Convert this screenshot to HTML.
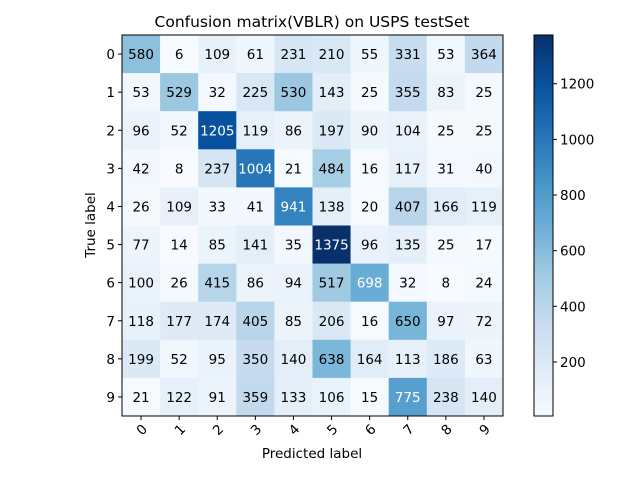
<!DOCTYPE html>
<html><head><meta charset="utf-8"><style>
body{margin:0;background:#fff;}
svg text{font-family:"DejaVu Sans","Liberation Sans",sans-serif;}
</style></head><body>
<svg id="chart" width="640" height="476" xmlns="http://www.w3.org/2000/svg">
<text x="312" y="27" font-size="15.5" text-anchor="middle">Confusion matrix(VBLR) on USPS testSet</text>
<g id="cells"></g>
<rect x="122" y="35" width="381" height="381" fill="none" stroke="#000" stroke-width="1"/>
<g id="axes"></g>
<text x="312" y="458" font-size="13.5" text-anchor="middle">Predicted label</text>
<text transform="translate(95,225) rotate(-90)" font-size="13.5" text-anchor="middle">True label</text>
<defs><linearGradient id="cbg" x1="0" y1="1" x2="0" y2="0">
<stop offset="0" stop-color="#f7fbff"/><stop offset="0.125" stop-color="#deebf7"/><stop offset="0.25" stop-color="#c6dbef"/><stop offset="0.375" stop-color="#9ecae1"/><stop offset="0.5" stop-color="#6baed6"/><stop offset="0.625" stop-color="#4292c6"/><stop offset="0.75" stop-color="#2171b5"/><stop offset="0.875" stop-color="#08519c"/><stop offset="1" stop-color="#08306b"/>
</linearGradient></defs>
<rect x="534" y="35" width="19" height="381" fill="url(#cbg)" stroke="#000" stroke-width="1"/>
<g id="cbticks"></g>
</svg>
<script>
const classes=['0','1','2','3','4','5','6','7','8','9'];
const matrix=[
[580,6,109,61,231,210,55,331,53,364],
[53,529,32,225,530,143,25,355,83,25],
[96,52,1205,119,86,197,90,104,25,25],
[42,8,237,1004,21,484,16,117,31,40],
[26,109,33,41,941,138,20,407,166,119],
[77,14,85,141,35,1375,96,135,25,17],
[100,26,415,86,94,517,698,32,8,24],
[118,177,174,405,85,206,16,650,97,72],
[199,52,95,350,140,638,164,113,186,63],
[21,122,91,359,133,106,15,775,238,140]];
const cbTicks=[200,400,600,800,1000,1200];
const NS='http://www.w3.org/2000/svg';
const x0=122,y0=35,W=381,H=381;
const n=classes.length,cw=W/n,ch=H/n;
let vmin=Infinity,vmax=-Infinity;
matrix.forEach(r=>r.forEach(v=>{vmin=Math.min(vmin,v);vmax=Math.max(vmax,v);}));
const stops=['#f7fbff','#deebf7','#c6dbef','#9ecae1','#6baed6','#4292c6','#2171b5','#08519c','#08306b'].map(h=>[1,3,5].map(i=>parseInt(h.substr(i,2),16)));
function color(v){let t=(v-vmin)/(vmax-vmin);t=Math.max(0,Math.min(1,t))*8;let i=Math.min(7,Math.floor(t)),f=t-i;
const c=stops[i].map((a,k)=>Math.round(a+(stops[i+1][k]-a)*f));return `rgb(${c})`;}
const xs=c=>x0+c*cw, ys=r=>y0+r*ch;
function el(tag,attrs,parent){const e=document.createElementNS(NS,tag);for(const k in attrs)e.setAttribute(k,attrs[k]);parent.appendChild(e);return e;}
const cells=document.getElementById('cells');
matrix.forEach((row,r)=>row.forEach((v,c)=>{
 const rect=el('rect',{x:xs(c),y:ys(r),width:cw+0.3,height:ch+0.3,fill:color(v)},cells);
 
 
 const t=el('text',{x:xs(c)+cw/2,y:ys(r)+ch/2+5,'font-size':'13.5','text-anchor':'middle',fill:v>(vmax+vmin)/2?'#fff':'#000'},cells);
 
 
 t.textContent=v;
}));
const axes=document.getElementById('axes');
classes.forEach((lab,i)=>{
 const cx=xs(i)+cw/2, cy=ys(i)+ch/2;
 el('line',{x1:cx,y1:y0+H,x2:cx,y2:y0+H+4,stroke:'#000'},axes);
 const tx=el('text',{transform:`translate(${cx+4},${y0+H+17}) rotate(-45)`,'font-size':'13.5','text-anchor':'middle'},axes);
 
 
 tx.textContent=lab;
 el('line',{x1:x0-4,y1:cy,x2:x0,y2:cy,stroke:'#000'},axes);
 const ty=el('text',{x:x0-7,y:cy+5,'font-size':'13.5','text-anchor':'end'},axes);
 
 
 ty.textContent=lab;
});
const cbt=document.getElementById('cbticks');
cbTicks.forEach(v=>{
 const y=416-(v-vmin)/(vmax-vmin)*381;
 el('line',{x1:553,y1:y,x2:557,y2:y,stroke:'#000'},cbt);
 const t=el('text',{x:560,y:y+5,'font-size':'13.5'},cbt);
 
 
 t.textContent=v;
});
</script>
</body></html>
